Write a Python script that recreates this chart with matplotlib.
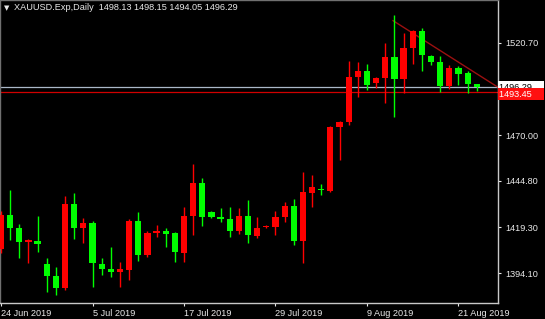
import matplotlib
matplotlib.use("Agg")
import matplotlib.pyplot as plt
import matplotlib.transforms as mtransforms

# daily XAUUSD candles, 24 Jun 2019 .. 23 Aug 2019 (broker feed incl. Sunday bars)
opens = [1407.44, 1426.10, 1418.97, 1411.28, 1411.83, 1399.20, 1392.62, 1386.03, 1432.14, 1418.97,
         1421.71, 1399.20, 1396.46, 1394.81, 1395.91, 1422.81, 1404.14, 1416.22, 1417.32, 1416.22,
         1405.24, 1425.56, 1443.67, 1427.75, 1425.01, 1423.91, 1417.32, 1425.56, 1414.58, 1419.52,
         1419.52, 1425.01, 1431.05, 1411.83, 1438.18, 1440.38, 1439.28, 1474.42, 1477.16, 1501.87,
         1505.16, 1498.57, 1501.32, 1512.85, 1500.77, 1517.79, 1527.12, 1513.40, 1510.10, 1496.93,
         1506.81, 1504.06, 1498.13]
highs = [1428.30, 1439.83, 1421.16, 1412.70, 1425.56, 1402.50, 1397.56, 1436.54, 1438.18, 1424.46,
         1422.81, 1402.50, 1408.54, 1400.30, 1423.91, 1427.75, 1417.32, 1420.62, 1418.97, 1416.77,
         1430.50, 1454.10, 1446.42, 1428.30, 1429.95, 1430.50, 1429.95, 1434.34, 1425.01, 1420.40,
         1428.30, 1433.24, 1434.89, 1449.71, 1448.07, 1443.12, 1474.97, 1477.71, 1510.65, 1510.10,
         1509.00, 1501.87, 1520.53, 1535.90, 1526.02, 1527.67, 1528.77, 1513.94, 1513.40, 1508.45,
         1507.91, 1505.16, 1498.15]
lows = [1405.24, 1412.38, 1402.50, 1399.75, 1405.79, 1383.83, 1382.18, 1384.93, 1412.93, 1410.73,
        1386.58, 1393.17, 1392.07, 1386.58, 1390.42, 1400.85, 1403.05, 1414.03, 1408.54, 1400.30,
        1400.30, 1415.12, 1420.07, 1424.46, 1422.26, 1414.03, 1415.67, 1410.73, 1413.48, 1419.20,
        1415.12, 1422.26, 1409.63, 1399.75, 1430.50, 1437.09, 1438.73, 1456.30, 1475.52, 1490.89,
        1494.73, 1495.83, 1487.59, 1479.91, 1493.08, 1509.00, 1505.16, 1508.45, 1493.63, 1495.28,
        1497.48, 1493.08, 1494.05]
closes = [1426.10, 1418.97, 1411.28, 1412.38, 1410.18, 1392.62, 1386.03, 1432.14, 1418.97, 1421.71,
          1399.75, 1396.46, 1394.81, 1396.46, 1422.81, 1404.14, 1416.22, 1417.32, 1415.67, 1405.79,
          1425.56, 1443.67, 1425.01, 1425.01, 1423.91, 1417.32, 1425.56, 1415.12, 1418.97, 1420.07,
          1425.01, 1431.05, 1411.83, 1438.73, 1441.48, 1439.83, 1474.42, 1477.16, 1501.87, 1505.16,
          1497.48, 1501.32, 1512.85, 1500.77, 1517.79, 1527.12, 1513.94, 1510.10, 1496.93, 1506.81,
          1503.51, 1498.03, 1496.29]

date_labels = ["24 Jun 2019", "5 Jul 2019", "17 Jul 2019", "29 Jul 2019", "9 Aug 2019", "21 Aug 2019"]
bars_per_label = 10
price_ticks = [1520.70, 1470.00, 1444.80, 1419.30, 1394.10]

bid_price = 1496.29
level_price = 1493.45
trend_start = (42.85, 1532.8)
trend_end = (54.3, 1496.3)

header = "XAUUSD.Exp,Daily  1498.13 1498.15 1494.05 1496.29"

UP = "#ff0000"
DOWN = "#00ff00"
TXT = "#e8e8e8"
FONT = ["Liberation Sans", "DejaVu Sans"]

fig = plt.figure(figsize=(5.45, 3.19), dpi=100, facecolor="black")
ax = fig.add_axes([0, 16 / 319, 498 / 545, 303 / 319], facecolor="black")

n = len(opens)
xs = list(range(n))
for i in xs:
    o, h, l, c = opens[i], highs[i], lows[i], closes[i]
    col = UP if c > o else DOWN
    ax.vlines(i, l, h, color=col, linewidth=1, zorder=3)
    bottom = min(o, c)
    height = max(abs(c - o), 0.55)
    ax.bar(i, height, bottom=bottom, width=0.68, color=col, edgecolor=col,
           linewidth=0, zorder=4)

# horizontal lines and trendline
ax.axhline(bid_price, color="#aab8c8", linewidth=0.9, zorder=2)
ax.axhline(level_price, color="#d00000", linewidth=0.9, zorder=2)
ax.plot([trend_start[0], trend_end[0]], [trend_start[1], trend_end[1]],
        color="#9b1010", linewidth=1, zorder=2)

ax.set_xlim(-0.11, 54.32)
ax.set_ylim(1377.8, 1544.14)

# price axis on the right
ax.yaxis.tick_right()
ax.set_yticks(price_ticks)
ax.set_yticklabels([f"{p:.2f}" for p in price_ticks])
ax.tick_params(axis="y", colors=TXT, length=2, width=0.8, pad=3, labelsize=6.6)

# time axis
tick_pos = [k * bars_per_label for k in range(len(date_labels))]
ax.set_xticks(tick_pos)
ax.set_xticklabels(date_labels)
ax.tick_params(axis="x", colors=TXT, length=2, width=0.8, pad=2, labelsize=6.6)
for lab in ax.get_xticklabels():
    lab.set_ha("left")
for lab in ax.get_xticklabels() + ax.get_yticklabels():
    lab.set_family(FONT)
    lab.set_color(TXT)

for side in ["right", "bottom"]:
    ax.spines[side].set_color("#c8c8c8")
    ax.spines[side].set_linewidth(1)
for side in ["left", "top"]:
    ax.spines[side].set_color("#707070")
    ax.spines[side].set_linewidth(1)

# price boxes on the right axis
trans = mtransforms.blended_transform_factory(ax.transAxes, ax.transData)
ax.text(1.003, bid_price, f"{bid_price:.2f}    ", transform=trans, va="center", ha="left",
        fontsize=6.6, family=FONT, color="black", clip_on=False, zorder=10,
        bbox=dict(boxstyle="square,pad=0.15", facecolor="white", edgecolor="none"))
ax.text(1.003, level_price - 1.0, f"{level_price:.2f}    ", transform=trans, va="center", ha="left",
        fontsize=6.6, family=FONT, color="white", clip_on=False, zorder=11,
        bbox=dict(boxstyle="square,pad=0.15", facecolor="#ff1010", edgecolor="none"))

# header
fig.text(4 / 545, 1 - 8 / 319, "\u25bc", fontsize=5, family="DejaVu Sans", color=TXT, va="center")
fig.text(14 / 545, 1 - 8 / 319, header, fontsize=6.6, family=FONT, color=TXT, va="center")

fig.savefig("out.png", dpi=100, facecolor="black")
